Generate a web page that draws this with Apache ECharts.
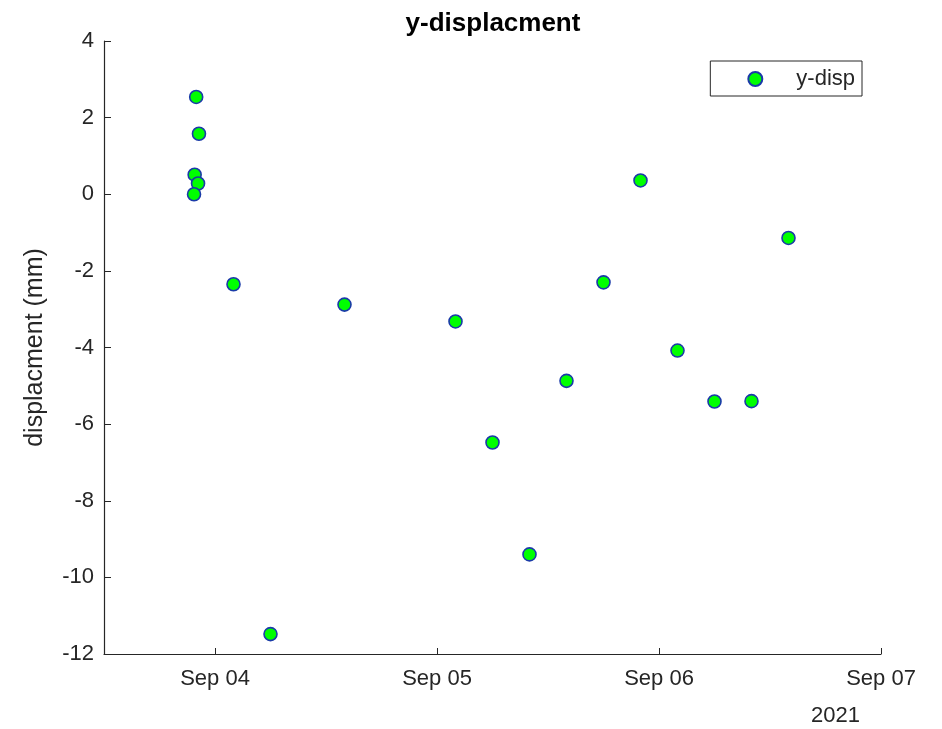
<!DOCTYPE html>
<html>
<head>
<meta charset="utf-8">
<script src="https://cdn.jsdelivr.net/npm/echarts@6/dist/echarts.min.js"></script>
<style>
  html, body { margin: 0; padding: 0; background: #fff; }
  #chart { width: 942px; height: 729px; }
</style>
</head>
<body>
<div id="chart"></div>
<script>
// Sample times (UTC) and y-displacement readings in mm
const sampleTimes = [
  '2021-09-03T21:58', '2021-09-03T22:16', '2021-09-03T21:48', '2021-09-03T22:10', '2021-09-03T21:44',
  '2021-09-04T02:00', '2021-09-04T06:00', '2021-09-04T14:00',
  '2021-09-05T02:00', '2021-09-05T06:00', '2021-09-05T10:00', '2021-09-05T14:00',
  '2021-09-05T18:00', '2021-09-05T22:00',
  '2021-09-06T02:00', '2021-09-06T06:00', '2021-09-06T10:00', '2021-09-06T14:00'
];
const yDisp = [
  2.54, 1.58, 0.51, 0.28, 0.0,
  -2.35, -11.48, -2.88,
  -3.32, -6.48, -9.40, -4.87,
  -2.30, 0.36,
  -4.08, -5.41, -5.40, -1.14
];
const xTickDates = ['2021-09-04', '2021-09-05', '2021-09-06', '2021-09-07'];
const xRange = ['2021-09-03T12:00', '2021-09-07T00:00'];
const yTicks = { min: -12, max: 4, step: 2 };

const toMs = s => Date.parse(s + (s.length === 10 ? 'T00:00:00Z' : ':00Z'));
const MONTHS = ['Jan','Feb','Mar','Apr','May','Jun','Jul','Aug','Sep','Oct','Nov','Dec'];
const tickMs = xTickDates.map(toMs);
const points = sampleTimes.map((t, i) => [toMs(t), yDisp[i]]);

const FONT = 'Liberation Sans, Arial, Helvetica, sans-serif';
const AX = '#262626';

const chart = echarts.init(document.getElementById('chart'), null, { renderer: 'canvas' });
chart.setOption({
  backgroundColor: '#ffffff',
  animation: false,
  title: {
    text: 'y-displacment',
    left: 488, top: 6, textAlign: 'center',
    textStyle: { fontFamily: FONT, fontSize: 26, fontWeight: 'bold', color: '#000' }
  },
  legend: {
    right: 80, top: 61,
    orient: 'vertical',
    borderColor: AX, borderWidth: 1,
    padding: [7, 7, 6, 37],
    itemWidth: 14, itemHeight: 14,
    textStyle: { fontFamily: FONT, fontSize: 22, color: AX, padding: [0, 0, 0, 29] },
    data: ['y-disp']
  },
  grid: { left: 104, right: 61, top: 41, bottom: 75, containLabel: false },
  xAxis: {
    type: 'value',
    min: toMs(xRange[0]), max: toMs(xRange[1]),
    axisLine: { show: true, onZero: false, lineStyle: { color: AX, width: 1.2 } },
    axisTick: { show: true, inside: true, length: 6, customValues: tickMs, lineStyle: { color: AX } },
    minorTick: { show: false },
    splitLine: { show: false },
    axisLabel: {
      customValues: tickMs,
      margin: 14,
      fontFamily: FONT, fontSize: 22, color: AX,
      formatter: v => {
        const d = new Date(v);
        return MONTHS[d.getUTCMonth()] + ' ' + String(d.getUTCDate()).padStart(2, '0');
      }
    }
  },
  yAxis: {
    type: 'value',
    min: yTicks.min, max: yTicks.max, interval: yTicks.step,
    name: 'displacment (mm)',
    nameLocation: 'middle',
    nameGap: 56,
    nameTextStyle: { fontFamily: FONT, fontSize: 25, color: AX },
    axisLine: { show: true, onZero: false, lineStyle: { color: AX, width: 1.2 } },
    axisTick: { show: true, inside: true, length: 7, lineStyle: { color: AX } },
    splitLine: { show: false },
    axisLabel: { margin: 10, fontFamily: FONT, fontSize: 22, color: AX }
  },
  graphic: [{
    type: 'text',
    left: 811, top: 705,
    style: { text: '2021', font: '22px ' + FONT, fill: AX }
  }],
  series: [{
    name: 'y-disp',
    type: 'scatter',
    data: points,
    symbol: 'circle',
    symbolSize: 13,
    itemStyle: { color: '#00ff00', borderColor: '#1a3aa8', borderWidth: 1.6, opacity: 1 }
  }]
});
</script>
</body>
</html>
